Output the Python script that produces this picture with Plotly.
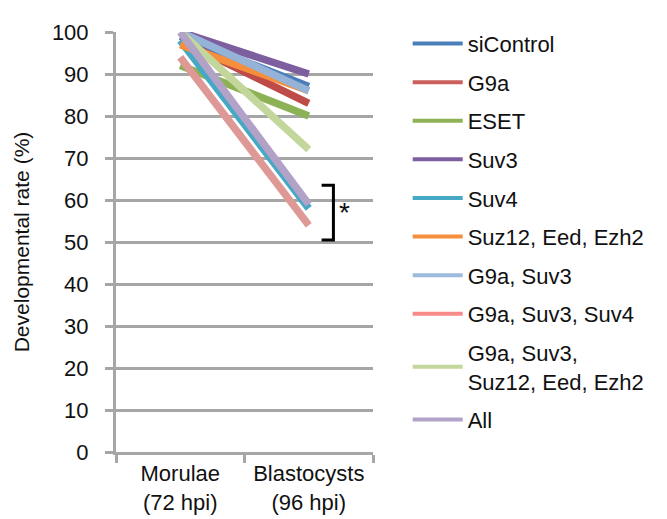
import plotly.graph_objects as go

categories = ["Morulae<br>(72 hpi)", "Blastocysts<br>(96 hpi)"]
series_names = ["siControl", "G9a", "ESET", "Suv3", "Suv4", "Suz12, Eed, Ezh2",
                "G9a, Suv3", "G9a, Suv3, Suv4", "G9a, Suv3,<br>Suz12, Eed, Ezh2", "All"]
siControl = [99, 87]
g9a = [98, 83]
eset = [92, 80]
suv3 = [100, 90]
suv4 = [98, 58]
suz12_eed_ezh2 = [97, 86]
g9a_suv3 = [100, 86]
g9a_suv3_suv4 = [94, 54]
g9a_suv3_suz12 = [100, 72]
all_kd = [100, 59]
series_values = [siControl, g9a, eset, suv3, suv4, suz12_eed_ezh2,
                 g9a_suv3, g9a_suv3_suv4, g9a_suv3_suz12, all_kd]
y_ticks = [0, 10, 20, 30, 40, 50, 60, 70, 80, 90, 100]

line_colors = ["#4A7EBB", "#BE4B48", "#8DB255", "#7D5FA0", "#45A8C4", "#F58F3E",
               "#95B3D7", "#DE9896", "#C3D69B", "#B3A2C7"]
legend_colors = ["#4A7EBB", "#C9605C", "#8DB255", "#7D5FA0", "#45A8C4", "#F58F3E",
                 "#9DBBDF", "#F98A8A", "#C3D69B", "#B3A2C7"]

FAM = "Liberation Sans, Arial, sans-serif"
TXT = "#111111"

fig = go.Figure()
for name, vals, c in zip(series_names, series_values, line_colors):
    fig.add_trace(go.Scatter(x=categories, y=vals, mode="lines", name=name,
                             line=dict(color=c, width=7.5), showlegend=False,
                             hoverinfo="skip"))
for name, c in zip(series_names, legend_colors):
    fig.add_trace(go.Scatter(x=[None], y=[None], mode="lines", name=name,
                             line=dict(color=c, width=4), legendgroup=name))

grey = "#A6A6A6"
font = dict(family=FAM, size=22, color=TXT)

# significance bracket
fig.add_shape(type="path", xref="x", yref="y",
              path="M 1.1,63.5 L 1.192,63.5 L 1.192,50.5 L 1.1,50.5",
              line=dict(color="black", width=3))
fig.add_annotation(x=1.28, y=57, xref="x", yref="y", text="*", showarrow=False,
                   font=dict(family=FAM, size=28, color=TXT))

fig.update_layout(
    width=667, height=519,
    margin=dict(l=105, r=302, t=22, b=72),
    plot_bgcolor="white", paper_bgcolor="white",
    font=font,
    showlegend=True,
    legend=dict(x=1.135, y=1.022, xanchor="left", yanchor="top",
                traceorder="grouped", tracegroupgap=7, maxheight=500,
                font=dict(family=FAM, size=22, color=TXT),
                bgcolor="rgba(0,0,0,0)", itemwidth=50),
    xaxis=dict(type="category", range=[-0.5, 1.5], showgrid=False,
               showline=True, linecolor=grey, linewidth=3,
               ticks="outside", tickson="boundaries", ticklen=8, tickwidth=3, tickcolor=grey,
               tickfont=font, fixedrange=True),
    yaxis=dict(range=[0, 100], tickvals=y_ticks, showgrid=True, gridcolor=grey, gridwidth=2.5,
               showline=True, linecolor=grey, linewidth=3, zeroline=False,
               ticks="outside", ticklen=8, tickwidth=3, tickcolor=grey,
               tickfont=font, ticklabelstandoff=12,
               title=dict(text="Developmental rate (%)", standoff=17,
                          font=dict(family=FAM, size=21, color=TXT))),
)

fig.write_html("out.html")
